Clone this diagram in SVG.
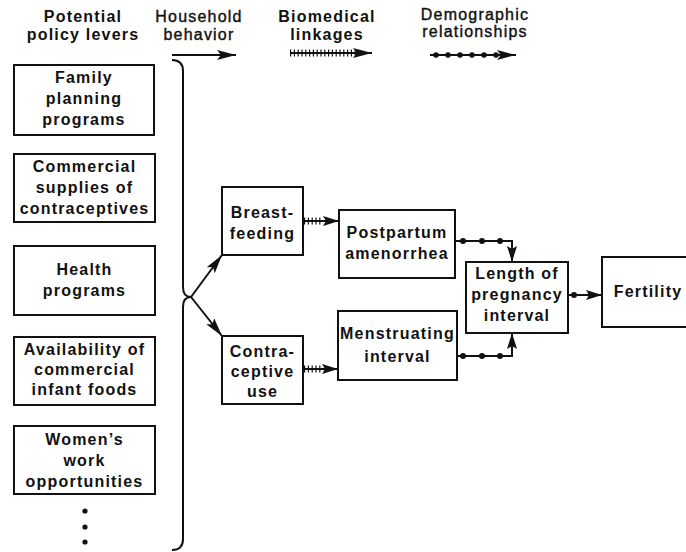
<svg xmlns="http://www.w3.org/2000/svg" width="686" height="552" viewBox="0 0 686 552">
<defs>
<style>
.box{fill:#fff;stroke:#111;stroke-width:2}
.t{font-family:"Liberation Sans",Arial,sans-serif;font-weight:bold;font-size:16px;letter-spacing:1.2px;fill:#111;text-anchor:middle}
.h{font-family:"Liberation Sans",Arial,sans-serif;font-size:16px;letter-spacing:1.2px;fill:#111;stroke:#111;stroke-width:0.4;text-anchor:middle}
.ln{fill:none;stroke:#111;stroke-width:2}
.tick{fill:none;stroke:#111;stroke-width:7;stroke-dasharray:1.2 2.6}
.dot{fill:#111}
</style>
<marker id="ah" markerUnits="userSpaceOnUse" markerWidth="20" markerHeight="12" refX="19" refY="5" orient="auto">
<path d="M0,0 L19,5 L0,10 L4,5 Z" fill="#111"/>
</marker>
<marker id="ahs" markerUnits="userSpaceOnUse" markerWidth="17" markerHeight="12" refX="16" refY="5" orient="auto">
<path d="M0,0 L16,5 L0,10 L3,5 Z" fill="#111"/>
</marker>
</defs>

<g id="headers">
<text class="t" x="83" y="22">Potential</text>
<text class="t" x="83" y="40">policy levers</text>
<text class="h" x="199" y="22">Household</text>
<text class="h" x="199" y="40">behavior</text>
<text class="t" x="327" y="22">Biomedical</text>
<text class="t" x="327" y="40">linkages</text>
<text class="h" x="475" y="20">Demographic</text>
<text class="h" x="475" y="37">relationships</text>
</g>

<g id="legend">
<line class="ln" x1="172" y1="55" x2="236" y2="55" marker-end="url(#ah)"/>
<line class="ln" x1="290" y1="53" x2="372" y2="53" marker-end="url(#ah)"/>
<line class="tick" x1="290" y1="53" x2="356" y2="53"/>
<line class="ln" x1="430" y1="55" x2="516" y2="55" marker-end="url(#ah)"/>
<circle class="dot" cx="436" cy="55" r="2.8"/>
<circle class="dot" cx="448" cy="55" r="2.8"/>
<circle class="dot" cx="460" cy="55" r="2.8"/>
<circle class="dot" cx="472" cy="55" r="2.8"/>
<circle class="dot" cx="484" cy="55" r="2.8"/>
<circle class="dot" cx="496" cy="55" r="2.8"/>
</g>

<g id="family-planning">
<rect class="box" x="14" y="65" width="140" height="70"/>
<text class="t" x="84" y="83">Family</text>
<text class="t" x="84" y="104">planning</text>
<text class="t" x="84" y="125">programs</text>
</g>
<g id="commercial-supplies">
<rect class="box" x="14" y="154" width="141" height="68"/>
<text class="t" x="84.5" y="172">Commercial</text>
<text class="t" x="84.5" y="193">supplies of</text>
<text class="t" x="84.5" y="214">contraceptives</text>
</g>
<g id="health-programs">
<rect class="box" x="14" y="246" width="141" height="69"/>
<text class="t" x="84.5" y="275">Health</text>
<text class="t" x="84.5" y="296">programs</text>
</g>
<g id="infant-foods">
<rect class="box" x="14" y="337" width="141" height="68"/>
<text class="t" x="84.5" y="355">Availability of</text>
<text class="t" x="84.5" y="375">commercial</text>
<text class="t" x="84.5" y="395">infant foods</text>
</g>
<g id="womens-work">
<rect class="box" x="14" y="426" width="141" height="68"/>
<text class="t" x="84.5" y="445">Women’s</text>
<text class="t" x="84.5" y="466">work</text>
<text class="t" x="84.5" y="487">opportunities</text>
</g>
<g id="ellipsis">
<circle class="dot" cx="85" cy="511" r="2.6"/>
<circle class="dot" cx="85" cy="527" r="2.6"/>
<circle class="dot" cx="85" cy="542" r="2.6"/>
</g>

<g id="breastfeeding">
<rect class="box" x="222" y="187" width="81" height="68"/>
<text class="t" x="262.5" y="218">Breast-</text>
<text class="t" x="262.5" y="239">feeding</text>
</g>
<g id="contraceptive-use">
<rect class="box" x="222" y="336" width="81" height="68"/>
<text class="t" x="262.5" y="357">Contra-</text>
<text class="t" x="262.5" y="377">ceptive</text>
<text class="t" x="262.5" y="397">use</text>
</g>
<g id="postpartum">
<rect class="box" x="339" y="210" width="116" height="68"/>
<text class="t" x="397" y="238">Postpartum</text>
<text class="t" x="397" y="259">amenorrhea</text>
</g>
<g id="menstruating">
<rect class="box" x="338" y="311" width="119" height="69"/>
<text class="t" x="397.5" y="339">Menstruating</text>
<text class="t" x="397.5" y="362">interval</text>
</g>
<g id="length-interval">
<rect class="box" x="466" y="262" width="102" height="71"/>
<text class="t" x="517" y="279">Length of</text>
<text class="t" x="517" y="300">pregnancy</text>
<text class="t" x="517" y="321">interval</text>
</g>
<g id="fertility">
<rect class="box" x="602" y="257" width="95" height="70"/>
<text class="t" x="648" y="297">Fertility</text>
</g>

<g id="connectors">
<path class="ln" d="M172,60 Q183,60 183,71 L183,287 Q183,297 191,297 Q183,297 183,307 L183,539 Q183,550 172,550"/>
<line class="ln" x1="191" y1="297" x2="222" y2="255" marker-end="url(#ah)"/>
<line class="ln" x1="191" y1="297" x2="222" y2="336" marker-end="url(#ah)"/>
<line class="ln" x1="303" y1="221" x2="339" y2="221" marker-end="url(#ahs)"/>
<line class="tick" x1="304" y1="221" x2="323" y2="221"/>
<line class="ln" x1="303" y1="369" x2="338" y2="369" marker-end="url(#ahs)"/>
<line class="tick" x1="304" y1="369" x2="322" y2="369"/>
<path class="ln" d="M455,241 L512,241 L512,262" marker-end="url(#ahs)"/>
<circle class="dot" cx="463" cy="241" r="3"/>
<circle class="dot" cx="482" cy="241" r="3"/>
<circle class="dot" cx="500" cy="241" r="3"/>
<path class="ln" d="M457,356 L512,356 L512,333" marker-end="url(#ahs)"/>
<circle class="dot" cx="463" cy="356" r="3"/>
<circle class="dot" cx="482" cy="356" r="3"/>
<circle class="dot" cx="500" cy="356" r="3"/>
<line class="ln" x1="568" y1="295" x2="602" y2="295" marker-end="url(#ahs)"/>
<circle class="dot" cx="574" cy="295" r="3"/>
</g>
</svg>
